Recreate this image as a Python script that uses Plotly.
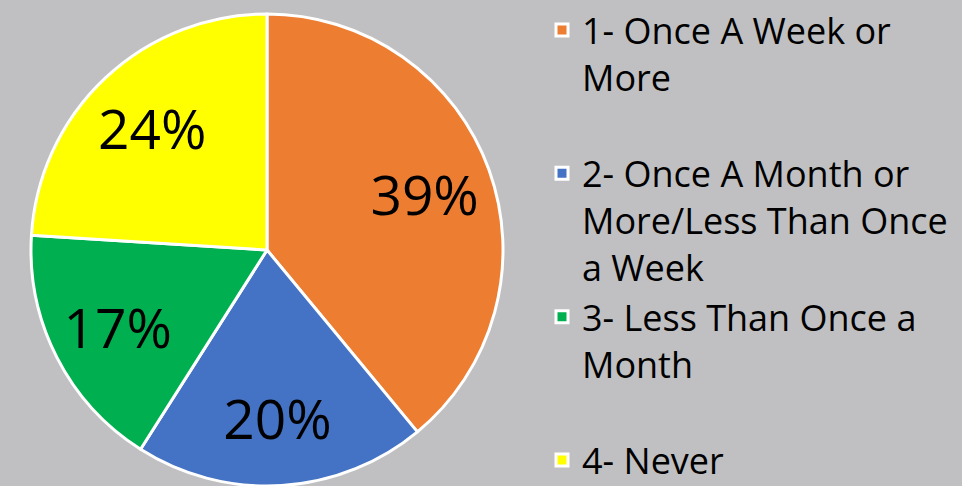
import plotly.graph_objects as go

# Attendance frequency shares
categories = [
    "1- Once A Week or<br>More<br> ",
    "2- Once A Month or<br>More/Less Than Once<br>a Week",
    "3- Less Than Once a<br>Month<br> ",
    "4- Never",
]
shares = [39, 20, 17, 24]
colors = ["#ED7D31", "#4472C4", "#00B050", "#FFFF00"]

W, H = 962, 486
bg = "#C0C0C2"
pie_domain = dict(x=[31 / W, 503 / W], y=[0, 472 / H])

fig = go.Figure()

# Filled slices with white separators
fig.add_trace(
    go.Pie(
        labels=categories,
        values=shares,
        sort=False,
        direction="clockwise",
        rotation=0,
        marker=dict(colors=colors, line=dict(color="white", width=3)),
        textinfo="none",
        domain=pie_domain,
        hoverinfo="label+percent",
    )
)

# Transparent ring on top that carries the percentage labels toward the rim
fig.add_trace(
    go.Pie(
        labels=categories,
        values=shares,
        sort=False,
        direction="clockwise",
        rotation=0,
        hole=0.42,
        marker=dict(colors=["rgba(0,0,0,0)"] * len(shares), line=dict(width=0)),
        texttemplate="%{percent:.0%}",
        textposition="inside",
        insidetextorientation="horizontal",
        textfont=dict(family="Open Sans", size=55, color="black"),
        domain=pie_domain,
        showlegend=False,
        hoverinfo="skip",
    )
)

fig.update_layout(
    width=W,
    height=H,
    margin=dict(l=0, r=0, t=0, b=0),
    paper_bgcolor=bg,
    plot_bgcolor=bg,
    showlegend=True,
    legend=dict(
        x=542 / W,
        y=1.0,
        xanchor="left",
        yanchor="top",
        valign="top",
        maxheight=600,
        font=dict(family="Open Sans", size=36, color="black"),
        bgcolor="rgba(0,0,0,0)",
    ),
)

fig.write_html("out.html")
